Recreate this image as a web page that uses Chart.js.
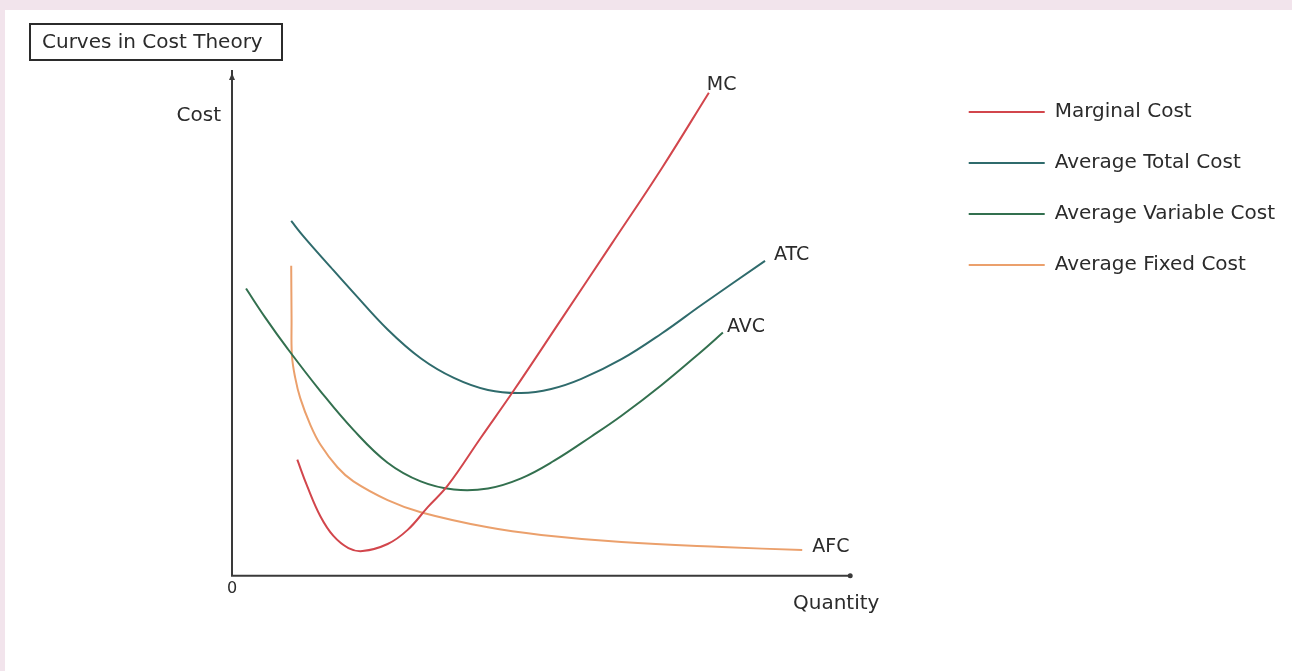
<!DOCTYPE html>
<html>
<head>
<meta charset="utf-8">
<title>Curves in Cost Theory</title>
<script src="https://cdn.jsdelivr.net/npm/chart.js@4.4.1/dist/chart.umd.min.js"></script>
<style>
  html, body { margin: 0; padding: 0; }
  body { width: 1292px; height: 671px; background: #f2e4ec; position: relative; overflow: hidden; }
  #panel { position: absolute; left: 5px; top: 10px; right: 0; bottom: 0; background: #ffffff; }
  #costChart { position: absolute; left: 0; top: 0; }
</style>
</head>
<body>
<div id="panel"></div>
<canvas id="costChart" width="1292" height="671"></canvas>
<script>
// values (quantity on x, cost on y)
const seriesNames = ['Marginal Cost', 'Average Total Cost', 'Average Variable Cost', 'Average Fixed Cost'];
const curveLabels = ['MC', 'ATC', 'AVC', 'AFC'];

const mcQty  = [9.25, 10.67, 12.52, 14.37, 16.5, 18.49, 22.05, 24.89, 27.74, 30.58, 35.28, 39.97, 46.66, 53.77, 60.88, 67.57];
const mcCost = [23.0, 17.7, 11.8, 7.9, 5.5, 4.9, 6.3, 9.1, 13.6, 17.9, 27.4, 36.8, 50.8, 65.7, 80.7, 95.7];

const atcQty  = [8.39, 10.1, 13.94, 17.21, 22.05, 26.74, 31.44, 36.27, 40.97, 45.23, 49.5, 55.19, 60.88, 66.57, 75.53];
const atcCost = [70.3, 67.3, 61.2, 56.1, 48.8, 43.1, 39.2, 36.8, 36.2, 37.0, 39.0, 42.9, 48.0, 53.7, 62.4];

const avcQty  = [1.99, 4.69, 7.82, 12.52, 17.21, 22.05, 26.74, 31.44, 36.27, 40.97, 45.66, 50.92, 55.19, 60.88, 66.57, 69.56];
const avcCost = [56.9, 51.2, 45.1, 36.6, 28.9, 22.4, 18.7, 17.1, 17.3, 19.3, 22.8, 27.6, 31.7, 37.8, 44.5, 48.2];

const afcQty  = [8.39, 8.44, 8.49, 8.96, 9.67, 11.1, 12.52, 14.94, 17.21, 22.05, 26.74, 36.27, 43.81, 55.19, 69.42, 80.8];
const afcCost = [61.4, 51.0, 43.7, 39.2, 35.2, 29.9, 26.0, 21.5, 18.7, 15.0, 12.6, 9.6, 8.1, 6.7, 5.7, 5.1];

const xAxisEnd = 87.6;   // where the drawn quantity axis stops

const colors = ['#d2464c', '#2f6b6c', '#33704f', '#eba06c'];
const labelOffsets = [[-2, -8], [9, -6], [4, -5], [10, -3]];

function toPoints(xs, ys) {
    return xs.map((x, i) => ({ x: x, y: ys[i] }));
}

const allQty = [mcQty, atcQty, avcQty, afcQty];
const allCost = [mcCost, atcCost, avcCost, afcCost];

const datasets = seriesNames.map((name, i) => ({
    label: name,
    data: toPoints(allQty[i], allCost[i]),
    borderColor: colors[i],
    backgroundColor: colors[i],
    borderWidth: 2,
    pointRadius: 0,
    tension: 0.4,
    fill: false,
    clip: false
}));

const decorPlugin = {
    id: 'decor',
    afterDraw(chart) {
        const ctx = chart.ctx;
        const area = chart.chartArea;
        const xs = chart.scales.x;
        ctx.save();

        // title box
        ctx.strokeStyle = '#2b2b2b';
        ctx.lineWidth = 2;
        ctx.strokeRect(30, 24, 252, 36);
        ctx.fillStyle = '#2b2b2b';
        ctx.font = '20px "DejaVu Sans"';
        ctx.textBaseline = 'middle';
        ctx.textAlign = 'left';
        ctx.fillText('Curves in Cost Theory', 42, 43);

        // quantity axis with end dot
        const xEnd = xs.getPixelForValue(xAxisEnd);
        ctx.strokeStyle = '#3a3a3a';
        ctx.fillStyle = '#3a3a3a';
        ctx.lineWidth = 2;
        ctx.beginPath();
        ctx.moveTo(area.left - 1, area.bottom);
        ctx.lineTo(xEnd, area.bottom);
        ctx.stroke();
        ctx.beginPath();
        ctx.arc(xEnd, area.bottom, 2.5, 0, Math.PI * 2);
        ctx.fill();

        // cost axis arrow head
        ctx.beginPath();
        ctx.moveTo(area.left, area.top + 2);
        ctx.lineTo(area.left - 3, area.top + 9);
        ctx.lineTo(area.left + 3, area.top + 9);
        ctx.closePath();
        ctx.fill();

        // axis names
        ctx.fillStyle = '#2b2b2b';
        ctx.font = '20px "DejaVu Sans"';
        ctx.textAlign = 'right';
        ctx.fillText('Cost', area.left - 11, 116);
        ctx.textAlign = 'center';
        ctx.fillText('Quantity', xEnd - 14, 604);

        // curve end labels
        ctx.font = '19px "DejaVu Sans"';
        ctx.textAlign = 'left';
        chart.data.datasets.forEach((ds, i) => {
            const meta = chart.getDatasetMeta(i);
            const last = meta.data[meta.data.length - 1];
            ctx.fillText(curveLabels[i], last.x + labelOffsets[i][0], last.y + labelOffsets[i][1]);
        });
        ctx.restore();
    }
};

Chart.defaults.font.family = '"DejaVu Sans"';

new Chart(document.getElementById('costChart'), {
    type: 'line',
    data: { datasets: datasets },
    options: {
        responsive: false,
        animation: false,
        devicePixelRatio: 1,
        layout: { padding: { left: 232, top: 71, right: 7, bottom: 70 } },
        scales: {
            x: {
                type: 'linear',
                min: 0,
                max: 100,
                grid: { display: false, drawTicks: false },
                border: { display: false },
                ticks: {
                    color: '#2b2b2b',
                    font: { size: 16 },
                    autoSkip: false,
                    maxRotation: 0,
                    callback: v => (v === 0 ? '0' : '')
                }
            },
            y: {
                min: 0,
                max: 100,
                grid: { display: false, drawTicks: false },
                border: { display: true, color: '#3a3a3a', width: 2 },
                ticks: { display: false }
            }
        },
        plugins: {
            legend: {
                position: 'right',
                align: 'start',
                maxWidth: 420,
                labels: {
                    usePointStyle: true,
                    pointStyle: 'line',
                    pointStyleWidth: 76,
                    padding: 31,
                    color: '#2b2b2b',
                    font: { size: 20 }
                }
            },
            tooltip: { enabled: false }
        }
    },
    plugins: [decorPlugin]
});
</script>
</body>
</html>
